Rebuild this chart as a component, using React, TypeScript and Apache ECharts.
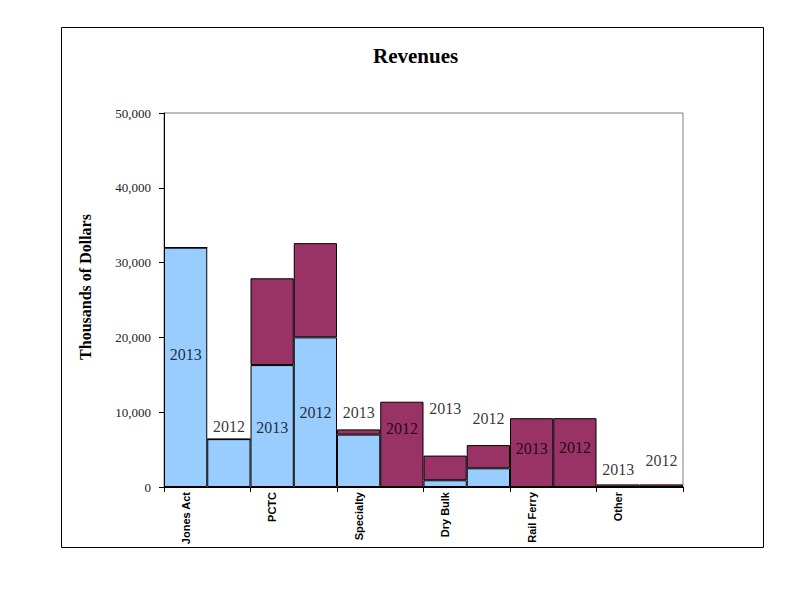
import React, { useEffect, useRef } from "react";
import * as echarts from "echarts";

const categories = ["Jones Act", "PCTC", "Specialty", "Dry Bulk", "Rail Ferry", "Other"];
const years = ["2013", "2012"];
// per bar (category × year), in thousands of dollars
const blueValues = [32000, 6400, 16300, 20000, 7000, 0, 900, 2500, 0, 0, 0, 0];
const maroonValues = [0, 0, 11600, 12600, 700, 11400, 3300, 3100, 9200, 9200, 350, 350];
// vertical position of the year labels
const yearLabelY = [17650, 8150, 8000, 10000, 9900, 7800, 10500, 9200, 5100, 5250, 2300, 3500];
const yTicks = [0, 10000, 20000, 30000, 40000, 50000];
const yAxisTitle = "Thousands of Dollars";

export default function App() {
  const ref = useRef<HTMLDivElement>(null);
  useEffect(() => {
    const chart = echarts.init(ref.current!, null, { renderer: "svg" });
    const xData: string[] = [];
    const yearNames: string[] = [];
    categories.forEach((c) => {
      years.forEach((y, i) => {
        xData.push(i === 0 ? c : "");
        yearNames.push(y);
      });
    });
    chart.setOption({
      animation: false,
      backgroundColor: "#ffffff",
      title: {
        text: "Revenues",
        left: 373,
        top: 45,
        padding: 0,
        textStyle: { fontFamily: "Liberation Serif", fontWeight: "bold", fontSize: 21, color: "#000" },
      },
      graphic: [
        {
          type: "rect",
          shape: { x: 61.5, y: 27.5, width: 702, height: 520 },
          style: { fill: "none", stroke: "#000", lineWidth: 1 },
          silent: true,
        },
        {
          type: "text",
          x: 85.5,
          y: 287,
          rotation: Math.PI / 2,
          style: {
            text: yAxisTitle,
            fontFamily: "Liberation Serif",
            fontWeight: "bold",
            fontSize: 16,
            fill: "#000",
            align: "center",
            verticalAlign: "middle",
          },
          silent: true,
        },
      ],
      grid: {
        left: 164,
        top: 113,
        right: 117,
        bottom: 113,
        show: true,
        borderColor: "#808080",
        borderWidth: 1,
        backgroundColor: "transparent",
      },
      xAxis: {
        type: "category",
        data: xData,
        boundaryGap: true,
        axisLine: { lineStyle: { color: "#000", width: 1 } },
        axisTick: { show: true, interval: 1, length: 5, lineStyle: { color: "#000" } },
        axisLabel: {
          interval: 1,
          rotate: 90,
          margin: 5,
          fontFamily: "Liberation Sans",
          fontWeight: "bold",
          fontSize: 11,
          color: "#000",
        },
      },
      yAxis: {
        type: "value",
        min: yTicks[0],
        max: yTicks[yTicks.length - 1],
        interval: 10000,
        axisLine: { show: true, lineStyle: { color: "#000", width: 1 } },
        axisTick: { show: true, length: 5, lineStyle: { color: "#000" } },
        splitLine: { show: false },
        axisLabel: {
          margin: 13,
          fontFamily: "Liberation Serif",
          fontSize: 13,
          color: "#222",
          formatter: (v: number) => v.toLocaleString("en-US"),
        },
      },
      series: [
        {
          type: "bar",
          stack: "rev",
          data: blueValues,
          barCategoryGap: "0%",
          barWidth: "100%",
          itemStyle: { color: "#99CCFF", borderColor: "#000", borderWidth: 1 },
        },
        {
          type: "bar",
          stack: "rev",
          data: maroonValues,
          barWidth: "100%",
          itemStyle: { color: "#993366", borderColor: "#000", borderWidth: 1 },
        },
        {
          type: "scatter",
          symbolSize: 0,
          data: yearLabelY.map((v, i) => ({ value: v, name: yearNames[i] })),
          label: {
            show: true,
            position: "inside",
            formatter: (p: any) => p.name,
            fontFamily: "Liberation Serif",
            fontSize: 16,
            color: "#000",
          },
          z: 10,
        },
      ],
    });
    return () => chart.dispose();
  }, []);
  return <div ref={ref} style={{ width: 800, height: 600, position: "absolute", left: 0, top: 0 }} />;
}
